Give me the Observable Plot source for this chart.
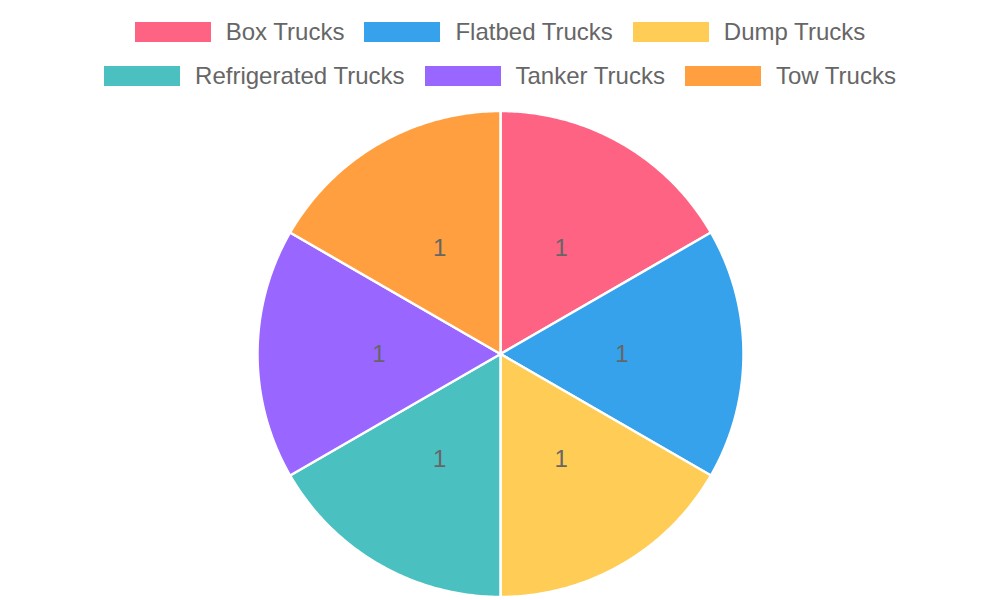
<!DOCTYPE html>
<html>
<head>
<meta charset="utf-8">
<script src="https://cdn.jsdelivr.net/npm/d3@7"></script>
<script src="https://cdn.jsdelivr.net/npm/@observablehq/plot@0.6"></script>
<style>
  html, body { margin: 0; padding: 0; background: #fff; }
  body { width: 1000px; height: 600px; overflow: hidden; font-family: "Liberation Sans", Arial, Helvetica, sans-serif; }
  #legend { height: 100px; box-sizing: border-box; padding-top: 10px; }
  .row { display: flex; justify-content: center; align-items: center; height: 44px; }
  .item { display: flex; align-items: center; margin: 0 10px; }
  .sw { width: 76px; height: 20px; margin-right: 15px; }
  .lab { font-size: 24px; color: #666; white-space: nowrap; }
  #chart svg { display: block; }
</style>
</head>
<body>
<div id="legend"></div>
<div id="chart"></div>
<script>
const categories = ["Box Trucks", "Flatbed Trucks", "Dump Trucks", "Refrigerated Trucks", "Tanker Trucks", "Tow Trucks"];
const values = [1, 1, 1, 1, 1, 1];
const colors = ["#ff6384", "#36a2eb", "#ffcd56", "#4bc0c0", "#9966ff", "#ff9f40"];
const legendRows = [[0, 1, 2], [3, 4, 5]];

// Legend (HTML)
const legend = document.getElementById("legend");
for (const row of legendRows) {
  const r = document.createElement("div");
  r.className = "row";
  for (const i of row) {
    const it = document.createElement("div");
    it.className = "item";
    const sw = document.createElement("div");
    sw.className = "sw";
    sw.style.background = colors[i];
    const lb = document.createElement("span");
    lb.className = "lab";
    lb.textContent = categories[i];
    it.appendChild(sw); it.appendChild(lb);
    r.appendChild(it);
  }
  legend.appendChild(r);
}

// Pie geometry from data
const table = categories.map((c, i) => ({category: c, value: values[i]}));
const arcs = d3.pie().sort(null).value(d => d.value).startAngle(0).endAngle(2 * Math.PI)(table);
const polyPoints = [];
const labelPoints = [];
for (const a of arcs) {
  const c = a.data.category;
  polyPoints.push({category: c, x: 0, y: 0});
  const steps = 90;
  for (let k = 0; k <= steps; k++) {
    const t = a.startAngle + (a.endAngle - a.startAngle) * k / steps;
    polyPoints.push({category: c, x: Math.sin(t), y: Math.cos(t)});
  }
  polyPoints.push({category: c, x: 0, y: 0});
  const mid = (a.startAngle + a.endAngle) / 2;
  labelPoints.push({category: c, value: a.data.value, x: 0.5 * Math.sin(mid), y: 0.5 * Math.cos(mid)});
}

const W = 1000, H = 500;
const cx = 500, cy = 253.5, R = 243;
const chart = Plot.plot({
  width: W,
  height: H,
  marginLeft: cx - R,
  marginRight: W - cx - R,
  marginTop: cy - R,
  marginBottom: H - cy - R,
  x: {domain: [-1, 1], axis: null},
  y: {domain: [-1, 1], axis: null},
  color: {domain: categories, range: colors},
  style: {fontFamily: '"Liberation Sans", Arial, Helvetica, sans-serif', background: "#fff"},
  marks: [
    Plot.line(polyPoints, {x: "x", y: "y", z: "category", fill: "category", stroke: "#fff", strokeWidth: 2.5, strokeLinejoin: "round", curve: "linear"}),
    Plot.text(labelPoints, {x: "x", y: "y", text: d => String(d.value), fill: "#666", fontSize: 24})
  ]
});
document.getElementById("chart").appendChild(chart);
</script>
</body>
</html>
